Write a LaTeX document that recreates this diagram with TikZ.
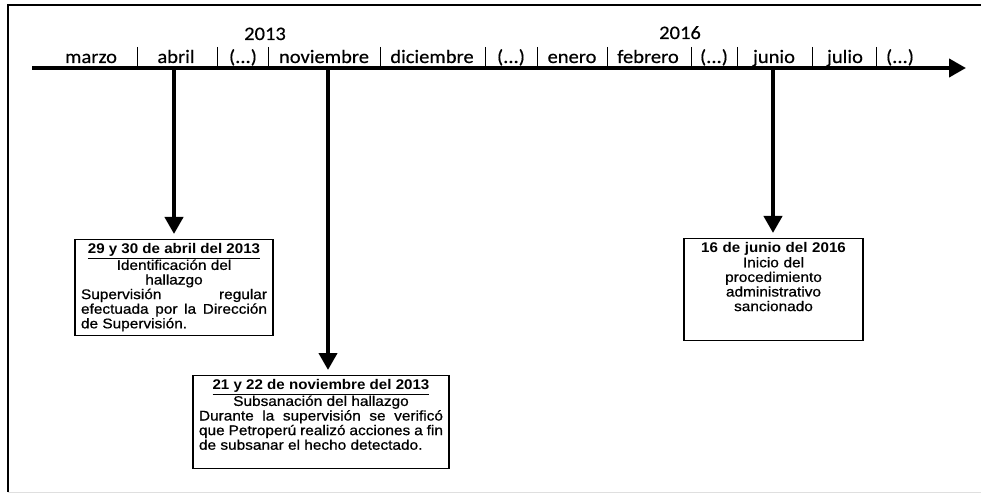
\documentclass[tikz,border=0pt]{standalone}
\usepackage{fontspec}
\setmainfont{Liberation Sans}[FakeStretch=1.1, FakeBold=0.7]
\newfontfamily\titlefont{Liberation Sans Bold}[FakeStretch=1.08]
\newfontfamily\monthfont{Carlito}[FakeStretch=1.08, FakeBold=0.4]
\usetikzlibrary{arrows.meta}

\tikzset{
  month/.style={font=\monthfont\fontsize{19}{21}\selectfont, anchor=base, inner sep=0pt},
  bar/.style={line width=0.9pt},
  drop/.style={line width=4pt, -{Triangle[length=17pt,width=18pt]}, shorten >=5pt},
  event/.style={draw, line width=1.1pt, anchor=north, inner xsep=6pt, inner ysep=4pt,
    align=justify, font=\fontsize{14}{14.6}\selectfont}
}
\newcommand{\evtitle}[1]{{\titlefont\underline{#1}}}

\begin{document}
\begin{tikzpicture}[x=1pt,y=-1pt]
\useasboundingbox (0,0) rectangle (981,494);
\fill[white] (0,0) rectangle (981,494);
\draw[line width=1.3pt] (8,492) -- (8,5) -- (990,5) ; % frame
\draw[gray!25] (8,492) -- (990,492) ; % frame bottom

\coordinate (ts) at (32,68); % timeline start
\coordinate (te) at (966,68); % timeline end
\draw[line width=4pt, -{Triangle[length=17pt,width=18pt]}] (ts) -- (te) ; % timeline

\node[month] (y2013) at (265,40) {2013};
\node[month] (y2016) at (680,39) {2016};

\foreach \x/\m [count=\i] in {91/marzo, 176/abril, 243/{(...)}, 324/noviembre,
    432/diciembre, 511/{(...)}, 572/enero, 648/febrero, 714/{(...)}, 774/junio,
    845/julio, 900/{(...)}}
  \node[month] (m\i) at (\x,63) {\m};

\foreach \x in {137,217,268,380,485,537,607,691,737,812,876}
  \draw[bar] (\x,47) -- (\x,66) ; % separator

\coordinate (pabr) at (174,68);
\coordinate (pnov) at (328,68);
\coordinate (pjun) at (773,68);

\node[event, text width=186pt] (ev1) at (174,239) {%
  {\centering\evtitle{29 y 30 de abril del 2013}\\
  Identificación del\\ hallazgo\par}
  Supervisión regular\linebreak efectuada por la Dirección\linebreak de Supervisión.};

\node[event, text width=244pt] (ev2) at (321,375) {%
  {\centering\evtitle{21 y 22 de noviembre del 2013}\\
  Subsanación del hallazgo\par}
  Durante la supervisión se verificó\linebreak que Petroperú realizó acciones a fin\linebreak
  de subsanar el hecho detectado.\par\rule{0pt}{10pt}};

\node[event, text width=167pt, align=center] (ev3) at (773.5,238) {%
  {\titlefont 16 de junio del 2016}\\ Inicio del\\ procedimiento\\ administrativo\\
  sancionado\\ \rule{0pt}{24pt}};

\draw[drop] (pabr) -- (pabr |- ev1.north) ;
\draw[drop] (pnov) -- (pnov |- ev2.north) ;
\draw[drop] (pjun) -- (pjun |- ev3.north) ;
\end{tikzpicture}
\end{document}
